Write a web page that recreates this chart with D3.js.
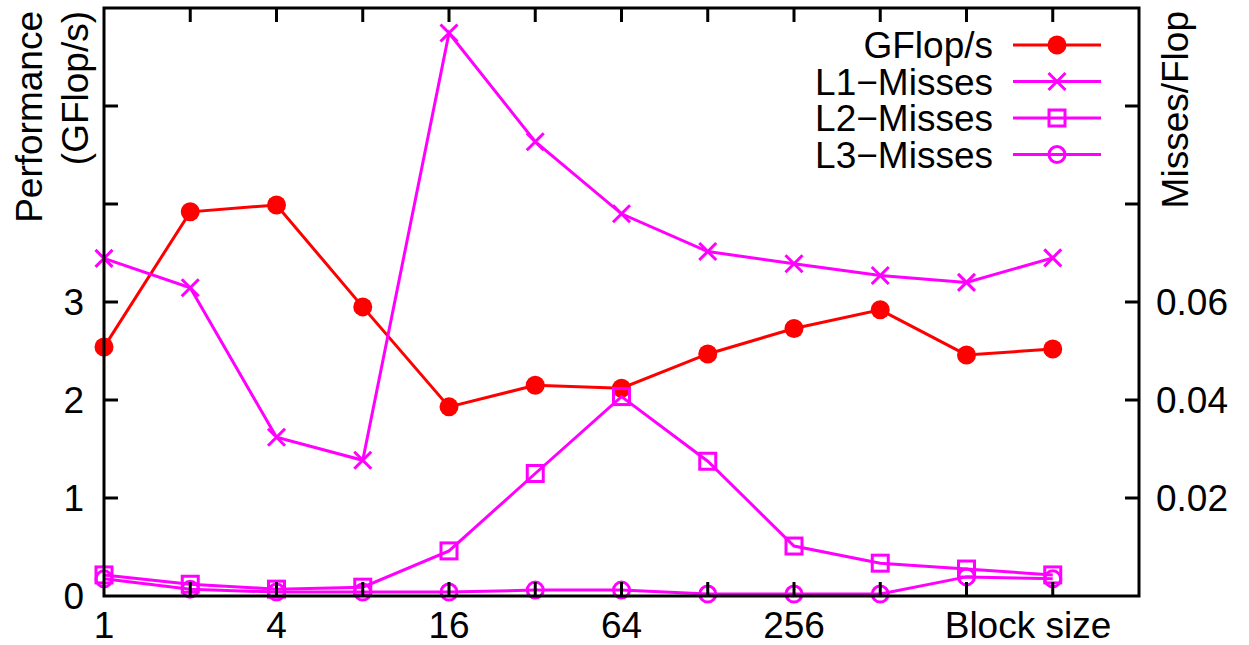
<!DOCTYPE html>
<html>
<head>
<meta charset="utf-8">
<script src="https://cdnjs.cloudflare.com/ajax/libs/d3/7.8.5/d3.min.js"></script>
<style>
  html, body { margin: 0; padding: 0; background: #fff; }
  text { font-family: "Liberation Sans", Arial, sans-serif; fill: #000; }
</style>
</head>
<body>
<div id="chart"></div>
<script>
var blockSizes = [1, 2, 4, 8, 16, 32, 64, 128, 256, 512, 1024, 2048];
var gflops   = [2.54, 3.92, 3.99, 2.95, 1.93, 2.15, 2.12, 2.47, 2.73, 2.92, 2.46, 2.52];
var l1Misses = [0.0689, 0.0629, 0.0324, 0.0277, 0.1149, 0.0927, 0.0780, 0.0703, 0.0678, 0.0654, 0.0640, 0.0690];
var l2Misses = [0.0043, 0.0024, 0.0014, 0.0018, 0.0092, 0.0250, 0.0407, 0.0275, 0.0102, 0.0067, 0.0055, 0.0043];
var l3Misses = [0.0035, 0.0014, 0.0008, 0.0008, 0.0008, 0.0012, 0.0012, 0.0004, 0.0004, 0.0004, 0.0039, 0.0035];

var xTickLabels = [1, 4, 16, 64, 256];
var yTickLabels = [0, 1, 2, 3];
var y2TickLabels = [0.02, 0.04, 0.06];

var width = 1249, height = 645;
var margin = {left: 104, right: 110, top: 8, bottom: 49};
var fontSize = 37;

var svg = d3.select("#chart").append("svg")
    .attr("width", width)
    .attr("height", height);

var x = d3.scaleLog().base(2)
    .domain([1, 4096])
    .range([margin.left, width - margin.right]);
var y = d3.scaleLinear()
    .domain([0, 6])
    .range([height - margin.bottom, margin.top]);
var y2 = d3.scaleLinear()
    .domain([0, 0.12])
    .range([height - margin.bottom, margin.top]);

var series = [
  {name: "GFlop/s",   values: gflops,   scale: y,  color: "#ff0000", marker: "dot"},
  {name: "L1\u2212Misses", values: l1Misses, scale: y2, color: "#ff00ff", marker: "cross"},
  {name: "L2\u2212Misses", values: l2Misses, scale: y2, color: "#ff00ff", marker: "square"},
  {name: "L3\u2212Misses", values: l3Misses, scale: y2, color: "#ff00ff", marker: "circle"}
];

function drawMarker(g, type, cx, cy, color) {
  if (type === "dot") {
    g.append("circle").attr("cx", cx).attr("cy", cy).attr("r", 9.5)
        .style("fill", color);
  } else if (type === "cross") {
    var s = 8.5;
    g.append("path")
        .attr("d", "M" + (cx - s) + "," + (cy - s) + "L" + (cx + s) + "," + (cy + s) +
                   "M" + (cx - s) + "," + (cy + s) + "L" + (cx + s) + "," + (cy - s))
        .style("stroke", color).style("stroke-width", 3).style("fill", "none");
  } else if (type === "square") {
    g.append("rect").attr("x", cx - 8).attr("y", cy - 8).attr("width", 16).attr("height", 16)
        .style("stroke", color).style("stroke-width", 3).style("fill", "none");
  } else {
    g.append("circle").attr("cx", cx).attr("cy", cy).attr("r", 8)
        .style("stroke", color).style("stroke-width", 3).style("fill", "none");
  }
}

// data lines + markers
var plot = svg.append("g");
series.forEach(function(s) {
  var line = d3.line()
      .x(function(d, i) { return x(blockSizes[i]); })
      .y(function(d) { return s.scale(d); });
  var g = plot.append("g");
  g.append("path")
      .attr("d", line(s.values))
      .style("fill", "none")
      .style("stroke", s.color)
      .style("stroke-width", 3);
  s.values.forEach(function(v, i) {
    drawMarker(g, s.marker, x(blockSizes[i]), s.scale(v), s.color);
  });
});

// border and ticks
var x0 = margin.left, x1 = width - margin.right;
var yTop = margin.top, yBot = height - margin.bottom;
var tickLen = 14;
var axes = svg.append("g").style("stroke", "#000").style("stroke-width", 3);

axes.append("rect")
    .attr("x", x0).attr("y", yTop)
    .attr("width", x1 - x0).attr("height", yBot - yTop)
    .style("fill", "none");

var xTicks = blockSizes.slice(1);
xTicks.forEach(function(t) {
  axes.append("line").attr("x1", x(t)).attr("x2", x(t))
      .attr("y1", yBot).attr("y2", yBot - tickLen);
  axes.append("line").attr("x1", x(t)).attr("x2", x(t))
      .attr("y1", yTop).attr("y2", yTop + tickLen);
});
[1, 2, 3, 4, 5].forEach(function(t) {
  axes.append("line").attr("x1", x0).attr("x2", x0 + tickLen)
      .attr("y1", y(t)).attr("y2", y(t));
});
[0.02, 0.04, 0.06, 0.08, 0.10].forEach(function(t) {
  axes.append("line").attr("x1", x1).attr("x2", x1 - tickLen)
      .attr("y1", y2(t)).attr("y2", y2(t));
});

// tick labels
var labels = svg.append("g").style("font-size", fontSize + "px");
xTickLabels.forEach(function(t) {
  labels.append("text").attr("x", x(t)).attr("y", 638)
      .attr("text-anchor", "middle").text(t);
});
labels.append("text").attr("x", 1028).attr("y", 638)
    .attr("text-anchor", "middle").text("Block size");
yTickLabels.forEach(function(t) {
  labels.append("text").attr("x", 84).attr("y", y(t))
      .attr("dy", "0.36em").attr("text-anchor", "end").text(t);
});
y2TickLabels.forEach(function(t) {
  labels.append("text").attr("x", 1156).attr("y", y2(t))
      .attr("dy", "0.36em").attr("text-anchor", "start").text(d3.format(".2f")(t));
});

// axis titles
labels.append("text")
    .attr("transform", "translate(42,11) rotate(-90)")
    .attr("text-anchor", "end").text("Performance");
labels.append("text")
    .attr("transform", "translate(88,11) rotate(-90)")
    .attr("text-anchor", "end").text("(GFlop/s)");
labels.append("text")
    .attr("transform", "translate(1188,11) rotate(-90)")
    .attr("text-anchor", "end").text("Misses/Flop");

// legend
var legend = svg.append("g").attr("class", "legend");
series.forEach(function(s, i) {
  var cy = 45 + i * 36.5;
  legend.append("text").attr("x", 993).attr("y", cy)
      .attr("dy", "0.36em").attr("text-anchor", "end")
      .style("font-size", fontSize + "px").text(s.name);
  legend.append("line").attr("x1", 1013).attr("x2", 1101)
      .attr("y1", cy).attr("y2", cy)
      .style("stroke", s.color).style("stroke-width", 3);
  drawMarker(legend, s.marker, 1057, cy, s.color);
});
</script>
</body>
</html>
